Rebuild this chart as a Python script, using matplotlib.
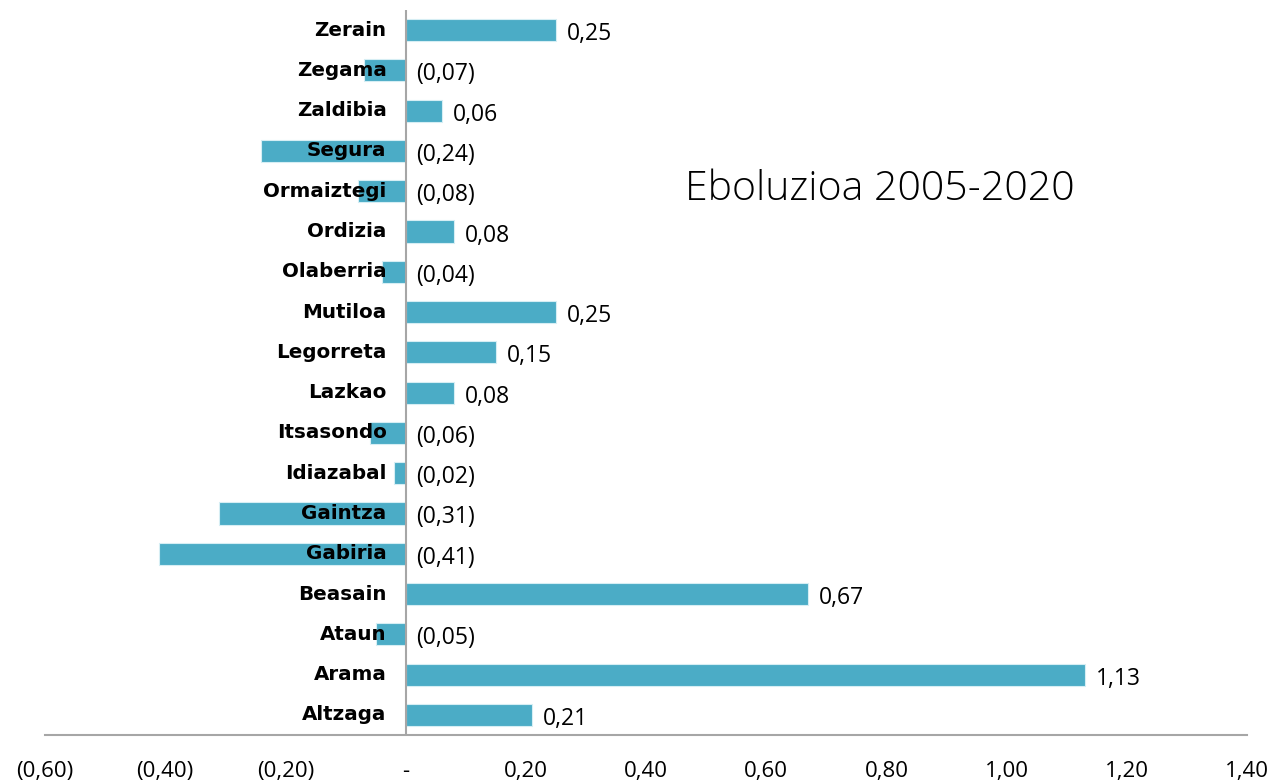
import matplotlib.pyplot as plt
from matplotlib.ticker import FuncFormatter

towns = ["Zerain", "Zegama", "Zaldibia", "Segura", "Ormaiztegi", "Ordizia",
         "Olaberria", "Mutiloa", "Legorreta", "Lazkao", "Itsasondo", "Idiazabal",
         "Gaintza", "Gabiria", "Beasain", "Ataun", "Arama", "Altzaga"]
values = [0.25, -0.07, 0.06, -0.24, -0.08, 0.08,
          -0.04, 0.25, 0.15, 0.08, -0.06, -0.02,
          -0.31, -0.41, 0.67, -0.05, 1.13, 0.21]
xticks = [-0.6, -0.4, -0.2, 0.0, 0.2, 0.4, 0.6, 0.8, 1.0, 1.2, 1.4]


def fmt(v):
    if abs(v) < 1e-9:
        return "-"
    s = f"{abs(v):.2f}".replace(".", ",")
    return f"({s})" if v < 0 else s


fig = plt.figure(figsize=(12.76, 7.82), dpi=100)
ax = fig.add_axes([45 / 1276, 47 / 782, 1202 / 1276, 725 / 782])

ypos = list(range(len(towns)))
ax.barh(ypos, values, height=0.55, color="#4BACC6", edgecolor="#d6eef4", linewidth=0.8, zorder=2)

ax.set_xlim(-0.6, 1.4)
ax.set_ylim(len(towns) - 0.5, -0.5)
ax.set_xticks(xticks)
ax.xaxis.set_major_formatter(FuncFormatter(lambda v, p: fmt(v)))
ax.tick_params(axis="x", length=0, pad=19, labelsize=16)
for lbl in ax.get_xticklabels():
    lbl.set_fontfamily("Open Sans")
ax.set_yticks([])

for s in ["top", "right", "left"]:
    ax.spines[s].set_visible(False)
ax.spines["bottom"].set_color("#a6a6a6")
ax.spines["bottom"].set_linewidth(1.5)
ax.axvline(0, color="#a6a6a6", linewidth=1.5, zorder=3)

# category names sit just left of the zero line, over the bars
for y, name in zip(ypos, towns):
    ax.annotate(name, (0, y), xytext=(-19, 0), textcoords="offset pixels",
                ha="right", va="center", fontsize=14.3, fontweight="bold",
                family="DejaVu Sans", zorder=4)

# value labels
for y, v in zip(ypos, values):
    x = v if v > 0 else 0
    ax.annotate(fmt(v), (x, y), xytext=(11, -4), textcoords="offset pixels",
                ha="left", va="center", fontsize=16.5, family="Open Sans", zorder=4)

fig.text(685 / 1276, 1 - 190 / 782, "Eboluzioa 2005-2020", fontsize=29.5,
         family="Open Sans", fontweight="light", va="center", ha="left")

fig.savefig("out.png", dpi=100)
